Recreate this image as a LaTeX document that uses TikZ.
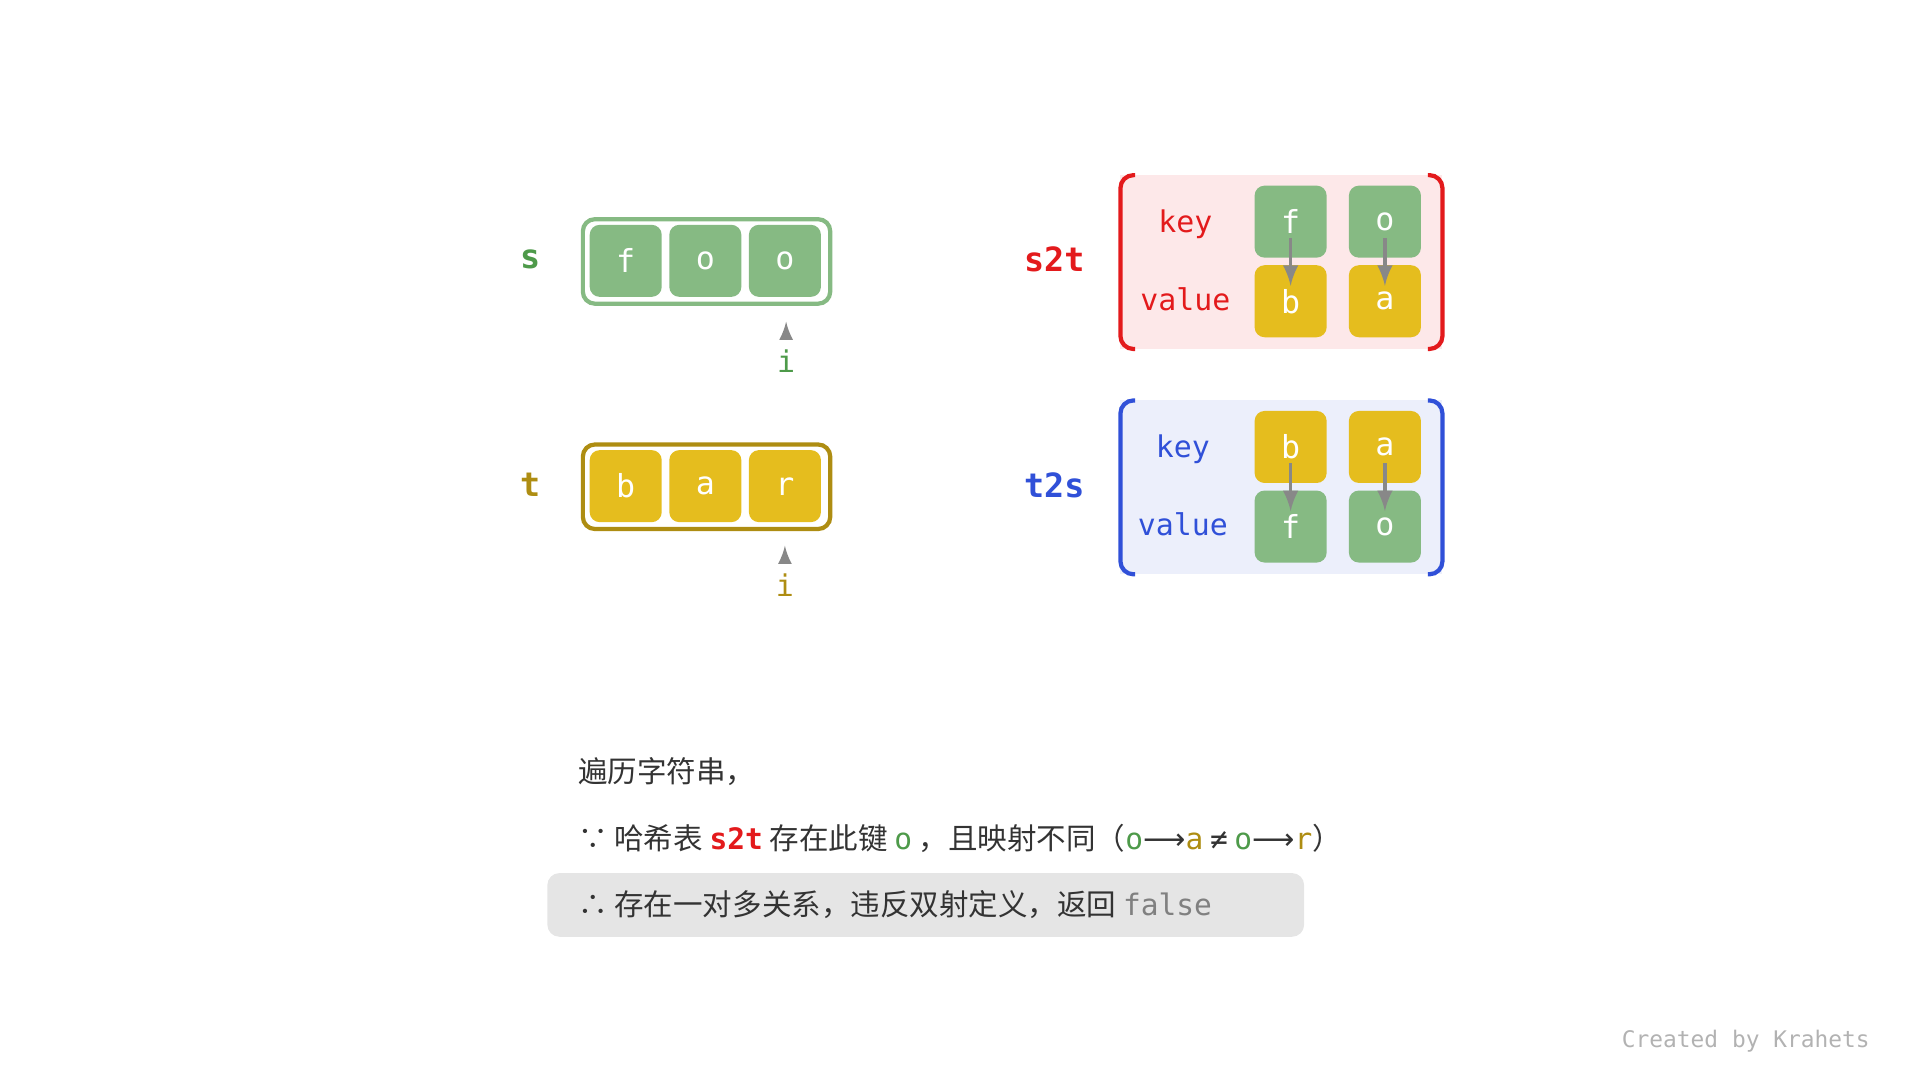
\documentclass[tikz,border=0pt]{standalone}
\usepackage{fontspec}
\setmainfont{Noto Sans CJK SC}
\setmonofont{DejaVu Sans Mono}
\newfontfamily\symfont{DejaVu Sans}
\usetikzlibrary{calc}

\definecolor{cellgreen}{HTML}{86BA83}
\definecolor{cellyellow}{HTML}{E5BD1E}
\definecolor{txtgreen}{HTML}{4E9A4A}
\definecolor{txtolive}{HTML}{AE8D12}
\definecolor{txtred}{HTML}{E31A1C}
\definecolor{txtblue}{HTML}{3050D8}
\definecolor{bgpink}{HTML}{FDE8E9}
\definecolor{bgblue}{HTML}{ECEFFB}
\definecolor{txtgray}{HTML}{333333}
\definecolor{arrgray}{HTML}{888888}

\tikzset{
  cell/.style={rounded corners=0.1cm,minimum size=0.72cm,inner sep=0pt,text=white,font=\ttfamily\fontsize{9}{9}\selectfont},
  gcell/.style={cell,fill=cellgreen},
  ycell/.style={cell,fill=cellyellow},
  varname/.style={font=\ttfamily\bfseries\fontsize{9.5}{9.5}\selectfont},
  lbl/.style={font=\ttfamily\fontsize{8.5}{8.5}\selectfont},
  link/.style={-latex,arrgray,line width=1pt,shorten <=4.6pt,shorten >=4.4pt},
  ptr/.style={-latex,arrgray,line width=0.8pt},
  textline/.style={anchor=west,text=txtgray,font=\fontsize{8.4}{8.4}\selectfont}
}

\begin{document}
\begin{tikzpicture}[x=0.012245cm,y=-0.012245cm]

\useasboundingbox (0,0) rectangle (1568,882);

% arrays s and t
\draw [cellgreen, line width=1.2pt, rounded corners=0.12cm] (476,179) rectangle (678,248);
\draw [txtolive, line width=1.2pt, rounded corners=0.12cm] (476,363) rectangle (678,432);

\node (s) at (433,212) [varname, text=txtgreen] {s};
\node (t) at (433,396) [varname, text=txtolive] {t};

\node (s1) at (511,213) [gcell] {f};
\node (s2) at (576,213) [gcell] {o};
\node (s3) at (641,213) [gcell] {o};

\node (t1) at (511,397) [ycell] {b};
\node (t2) at (576,397) [ycell] {a};
\node (t3) at (641,397) [ycell] {r};

\node (is) at (642,295) [lbl, text=txtgreen] {i};
\node (it) at (641,478) [lbl, text=txtolive] {i};
\draw [ptr] (is.north) -- ++(0,-13);
\draw [ptr] (it.north) -- ++(0,-13);

% hash maps
\fill [bgpink] (915,143) rectangle (1178,285);
\draw [txtred, line width=1.2pt, rounded corners=0.13cm] (927,143) -- (915,143) -- (915,285) -- (927,285);
\draw [txtred, line width=1.2pt, rounded corners=0.13cm] (1166,143) -- (1178,143) -- (1178,285) -- (1166,285);

\fill [bgblue] (915,327) rectangle (1178,469);
\draw [txtblue, line width=1.2pt, rounded corners=0.13cm] (927,327) -- (915,327) -- (915,469) -- (927,469);
\draw [txtblue, line width=1.2pt, rounded corners=0.13cm] (1166,327) -- (1178,327) -- (1178,469) -- (1166,469);

\node (s2t) at (861,212) [varname, text=txtred] {s2t};
\node (t2s) at (861,396) [varname, text=txtblue] {t2s};

\node (sk) at (968,183) [lbl, text=txtred] {key};
\node (sv) at (968,244) [lbl, text=txtred] {value};
\node (tk) at (966,367) [lbl, text=txtblue] {key};
\node (tv) at (966,428) [lbl, text=txtblue] {value};

\node (sk1) at (1054,181) [gcell] {f};
\node (sk2) at (1131,181) [gcell] {o};
\node (sv1) at (1054,246) [ycell] {b};
\node (sv2) at (1131,246) [ycell] {a};

\node (tk1) at (1054,365) [ycell] {b};
\node (tk2) at (1131,365) [ycell] {a};
\node (tv1) at (1054,430) [gcell] {f};
\node (tv2) at (1131,430) [gcell] {o};

\draw [link] (sk1.center) -- (sv1.center);
\draw [link] (sk2.center) -- (sv2.center);
\draw [link] (tk1.center) -- (tv1.center);
\draw [link] (tk2.center) -- (tv2.center);

% explanation
\fill [gray!20, rounded corners=0.12cm] (447,713) rectangle (1065,765);

\node (l1) at (462,630) [textline] {遍历字符串，};
\node (l2) at (462,685) [textline] {∵\ 哈希表 \textcolor{txtred}{\ttfamily\bfseries s2t} 存在此键 \textcolor{txtgreen}{\ttfamily o} ，且映射不同（\textcolor{txtgreen}{\ttfamily o}{\symfont ⟶}\textcolor{txtolive}{\ttfamily a} {\ttfamily ≠} \textcolor{txtgreen}{\ttfamily o}{\symfont ⟶}\textcolor{txtolive}{\ttfamily r}）};
\node (l3) at (462,739) [textline] {∴\ 存在一对多关系，违反双射定义，返回 \textcolor{gray}{\ttfamily false}};

\node (credit) at (1537,850) [anchor=east, text=gray!60, font=\ttfamily\fontsize{6.5}{6.5}\selectfont] {Created by Krahets};

\end{tikzpicture}
\end{document}
